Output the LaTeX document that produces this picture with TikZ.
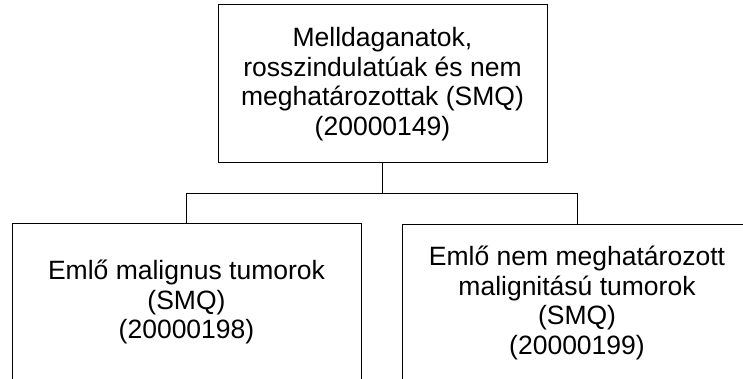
\documentclass[tikz,border=0pt]{standalone}
\usepackage{fontspec}
\setmainfont{Liberation Sans}
\begin{document}
\begin{tikzpicture}[x=1pt,y=-1pt,
  box/.style={draw, line width=1pt, rectangle, minimum height=158pt, inner sep=0pt,
    align=center, font=\fontsize{26.5}{29.7}\selectfont},
  conn/.style={line width=1pt}]
\clip (0,0) rectangle (743,379);
\node[box, minimum width=329pt] (top) at (382.5,84)
  {Melldaganatok,\\rosszindulatúak és nem\\meghatározottak (SMQ)\\(20000149)};
\node[box, minimum width=349pt] (left) at (186.5,302)
  {Emlő malignus tumorok\\(SMQ)\\(20000198)};
\node[box, minimum width=350pt] (right) at (577,303)
  {Emlő nem meghatározott\\malignitású tumorok\\(SMQ)\\(20000199)};
\coordinate (bus) at (382.5,194);
\draw[conn] (top.south) -- (bus);
\draw[conn] (left.north) -- (left.north |- bus) -- (right.north |- bus) -- (right.north);
\end{tikzpicture}
\end{document}
